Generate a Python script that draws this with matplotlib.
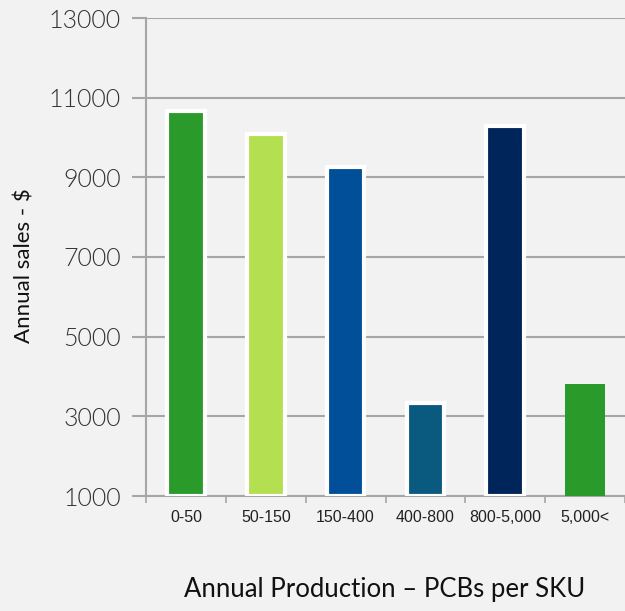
import matplotlib
matplotlib.use("Agg")
import matplotlib.pyplot as plt
from matplotlib.ticker import FixedLocator

categories = ["0-50", "50-150", "150-400", "400-800", "800-5,000", "5,000<"]
sales = [10670, 10100, 9250, 3330, 10300, 3800]
colors = ["#2a9a2a", "#b3df50", "#004f98", "#0a5a80", "#00255a", "#2a9a2a"]
edge_colors = ["white", "white", "white", "white", "white", "none"]
yticks = [1000, 3000, 5000, 7000, 9000, 11000, 13000]

bg = "#f2f2f2"
fig = plt.figure(figsize=(6.25, 6.11), dpi=100, facecolor=bg)
ax = fig.add_axes([146/625, (611-496)/611, 1 - 146/625, (496-18)/611])
ax.set_facecolor(bg)

x = list(range(len(categories)))
base = yticks[0]
for i, (v, c, ec) in enumerate(zip(sales, colors, edge_colors)):
    if ec == "none":
        ax.bar(i, v - base, bottom=base, width=0.5, color=c, zorder=3)
    else:
        ax.bar(i, v - base, bottom=base, width=0.47, color=c, edgecolor=ec,
               linewidth=3, zorder=3)

ax.set_xlim(-0.5, len(categories) - 0.5)
ax.set_ylim(yticks[0], yticks[-1])
ax.set_yticks(yticks)
ax.set_yticklabels([str(t) for t in yticks], fontsize=18, family="Lato",
                   fontweight=300, color="#333333")
ax.yaxis.grid(True, color="#a6a6a6", linewidth=1.5, zorder=0)
ax.set_axisbelow(True)

ax.set_xticks(x)
ax.set_xticklabels(categories, fontsize=11.5, family="Liberation Sans", color="#222222")
ax.tick_params(axis="x", which="major", length=0, pad=10)
ax.xaxis.set_minor_locator(FixedLocator([i + 0.5 for i in range(-1, len(categories))]))
ax.tick_params(axis="x", which="minor", length=5, width=1.2, color="#a6a6a6", direction="out")
ax.tick_params(axis="y", which="major", length=10, width=1.5, color="#a6a6a6", pad=8)

for s in ["top", "right"]:
    ax.spines[s].set_visible(False)
for s in ["left", "bottom"]:
    ax.spines[s].set_color("#a6a6a6")
    ax.spines[s].set_linewidth(1.5)

fig.text(25/625, 1 - 266/611, "Annual sales - $", rotation=90, ha="center", va="center",
         fontsize=16, family="Lato", color="#111111")
fig.text(385/625, 1 - 590/611, "Annual Production \u2013 PCBs per SKU", ha="center", va="center",
         fontsize=18.5, family="Lato", color="#111111")

fig.savefig("out.png", dpi=100, facecolor=bg)
